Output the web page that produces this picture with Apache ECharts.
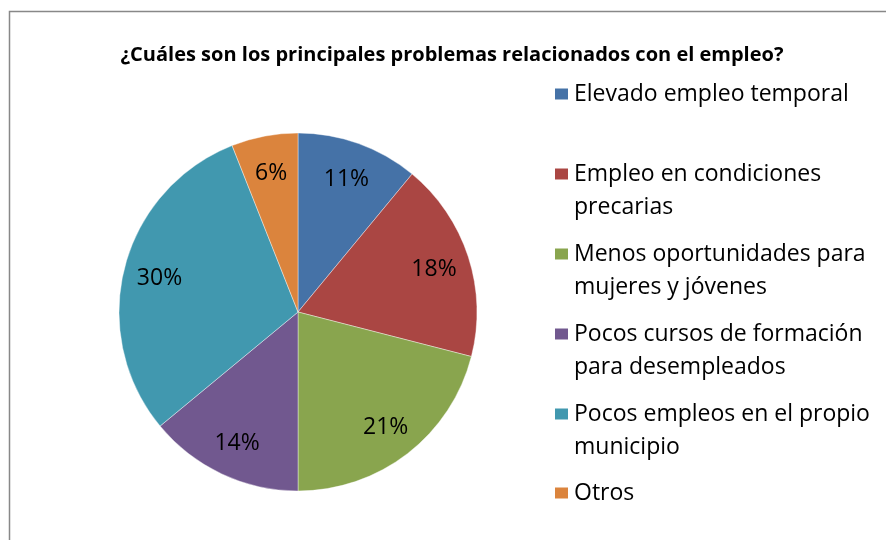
<!DOCTYPE html>
<html>
<head>
<meta charset="utf-8">
<script src="https://cdn.jsdelivr.net/npm/echarts@6/dist/echarts.min.js"></script>
<style>
  html, body { margin: 0; padding: 0; background: #fff; }
  #chart { width: 886px; height: 540px; }
</style>
</head>
<body>
<div id="chart"></div>
<script>
// datos del gráfico
const titleText = '¿Cuáles son los principales problemas relacionados con el empleo?'
const categories = [
  'Elevado empleo temporal',
  'Empleo en condiciones precarias',
  'Menos oportunidades para mujeres y jóvenes',
  'Pocos cursos de formación para desempleados',
  'Pocos empleos en el propio municipio',
  'Otros'
]
const legendLines = [
  ['Elevado empleo temporal'],
  ['Empleo en condiciones', 'precarias'],
  ['Menos oportunidades para', 'mujeres y jóvenes'],
  ['Pocos cursos de formación', 'para desempleados'],
  ['Pocos empleos en el propio', 'municipio'],
  ['Otros']
]
const values = [11, 18, 21, 14, 30, 6]
const colors = ['#4572A7', '#AA4643', '#89A54E', '#71588F', '#4198AF', '#DB843D']

const FONT = 'Open Sans'
const LINE_H = 33
const legendCenters = [94, 174, 254, 334, 414, 493]

const chart = echarts.init(document.getElementById('chart'))

const pieData = categories.map((name, i) => ({
  name,
  value: values[i],
  itemStyle: { color: colors[i] }
}))

// una leyenda por elemento; en las de dos líneas se añade una línea vacía
// arriba para que el cuadro quede a la altura de la primera línea
const legends = categories.map((name, i) => {
  const twoLines = legendLines[i].length > 1
  return {
    data: [name],
    orient: 'vertical',
    left: 553,
    top: legendCenters[i] - (twoLines ? LINE_H * 1.5 : LINE_H / 2),
    padding: 0,
    icon: 'rect',
    itemWidth: 15,
    itemHeight: 13,
    selectedMode: false,
    formatter: () => (twoLines ? ' \n' : '') + legendLines[i].join('\n'),
    textStyle: {
      fontFamily: FONT,
      fontSize: 23,
      color: '#000',
      lineHeight: LINE_H
    }
  }
})

const option = {
  animation: false,
  backgroundColor: '#fff',
  title: {
    text: titleText,
    left: 452,
    top: 45,
    textAlign: 'center',
    padding: 0,
    textStyle: {
      fontFamily: FONT,
      fontSize: 20,
      fontWeight: 'bold',
      color: '#000'
    }
  },
  legend: legends,
  graphic: [{
    type: 'rect',
    shape: { x: 9.5, y: 11.5, width: 1000, height: 1000 },
    style: { fill: 'none', stroke: '#888', lineWidth: 1.5 },
    silent: true,
    z: -1
  }],
  series: [
    {
      type: 'pie',
      center: [298, 312],
      radius: [0, 179],
      startAngle: 90,
      clockwise: true,
      silent: true,
      label: { show: false },
      labelLine: { show: false },
      itemStyle: { borderColor: '#fff', borderWidth: 0.4 },
      data: pieData
    },
    {
      // capa transparente solo para situar las etiquetas
      type: 'pie',
      center: [298, 314],
      radius: [101, 179],
      startAngle: 90,
      clockwise: true,
      silent: true,
      itemStyle: { color: 'rgba(0,0,0,0)' },
      label: {
        show: true,
        position: 'inside',
        formatter: '{c}%',
        fontFamily: FONT,
        fontSize: 23,
        color: '#000'
      },
      labelLine: { show: false },
      data: categories.map((name, i) => ({ name, value: values[i] }))
    }
  ]
}

chart.setOption(option)
</script>
</body>
</html>
